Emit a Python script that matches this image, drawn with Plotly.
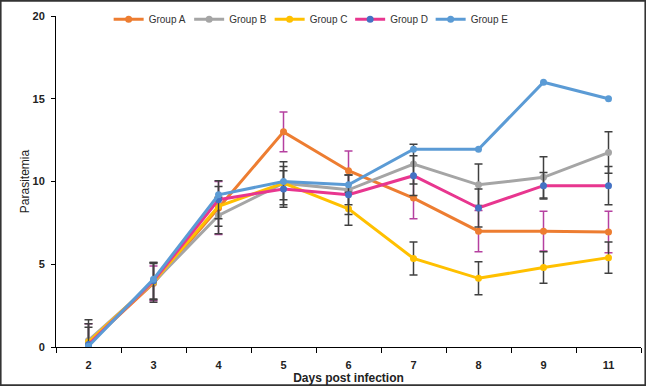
import plotly.graph_objects as go

days = ["2", "3", "4", "5", "6", "7", "8", "9", "11"]
group_a = [0.2, 3.85, 8.4, 13.0, 10.65, 9.0, 7.0, 7.0, 6.95]
group_a_err = [1.2, 1.05, 1.6, 1.2, 1.2, 1.25, 1.25, 1.2, 1.25]
group_b = [0.4, 3.9, 7.95, 9.9, 9.5, 11.05, 9.8, 10.25, 11.75]
group_b_err = [1.25, 1.2, 1.1, 1.3, 0.9, 1.2, 1.25, 1.25, 1.25]
group_c = [0.3, 3.95, 8.5, 9.9, 8.35, 5.35, 4.15, 4.8, 5.4]
group_c_err = [0.9, 1.1, 1.2, 1.0, 1.0, 1.0, 1.0, 0.95, 0.95]
group_d = [0.15, 4.0, 8.9, 9.55, 9.2, 10.35, 8.4, 9.75, 9.75]
group_d_err = [1.25, 1.1, 1.15, 1.1, 1.2, 1.2, 1.15, 0.8, 1.15]
group_e = [0.05, 4.1, 9.2, 10.0, 9.8, 11.95, 11.95, 16.0, 15.0]

series = [
    ("Group A", group_a, group_a_err, "#ED7D31", "#ED7D31", "#B540A0"),
    ("Group B", group_b, group_b_err, "#A5A5A5", "#A5A5A5", "#404040"),
    ("Group C", group_c, group_c_err, "#FFC000", "#FFC000", "#404040"),
    ("Group D", group_d, group_d_err, "#E8368F", "#4472C4", "#404040"),
    ("Group E", group_e, None, "#5B9BD5", "#5B9BD5", None),
]

fig = go.Figure()
for name, vals, err, lc, mc, ec in series:
    kw = {}
    if err is not None:
        kw["error_y"] = dict(type="data", array=err, visible=True, color=ec,
                             thickness=1.5, width=4)
    fig.add_trace(go.Scatter(
        x=days, y=vals, name=name, mode="lines+markers",
        line=dict(color=lc, width=3),
        marker=dict(color=mc, size=7),
        **kw,
    ))

fig.update_layout(
    width=646, height=386,
    margin=dict(l=56, r=5, t=16, b=39, autoexpand=False),
    paper_bgcolor="white", plot_bgcolor="white",
    font=dict(family="Liberation Sans, Arial, sans-serif", size=11, color="#222"),
    showlegend=True,
    legend=dict(orientation="h", x=0.09, y=0.99, xanchor="left", yanchor="middle",
                font=dict(size=10, color="#333"), entrywidth=35.5,
                entrywidthmode="pixels", tracegroupgap=0,
                bgcolor="rgba(0,0,0,0)"),
    xaxis=dict(
        type="category", range=[-0.5, 8.5], showline=True, linecolor="black",
        linewidth=1, ticks="outside", tickson="boundaries", ticklen=5,
        tickcolor="black", showgrid=False, zeroline=False, automargin=False,
        ticklabelstandoff=8,
        tickfont=dict(size=11, color="#222", family="Liberation Sans, Arial, sans-serif", weight="bold"),
        title=dict(text="<b>Days post infection</b>", font=dict(size=12), standoff=3),
    ),
    yaxis=dict(
        range=[0, 20], dtick=5, showline=True, linecolor="black", linewidth=1,
        ticks="outside", ticklen=4, tickcolor="black", showgrid=False,
        zeroline=False, automargin=False, ticklabelstandoff=4,
        tickfont=dict(size=11, color="#222", family="Liberation Sans, Arial, sans-serif", weight="bold"),
        title=dict(text="Parasitemia", font=dict(size=12), standoff=0),
    ),
    shapes=[dict(type="rect", xref="paper", yref="paper",
                 x0=-56/585 + 0.001, x1=590/585 - 0.001,
                 y0=-39/331 + 0.002, y1=1 + 16/331 - 0.002,
                 line=dict(color="#333", width=2))],
)

fig.write_html("out.html", config={"displayModeBar": False},
               post_script="document.body.style.margin='0';document.body.style.overflow='hidden';")
